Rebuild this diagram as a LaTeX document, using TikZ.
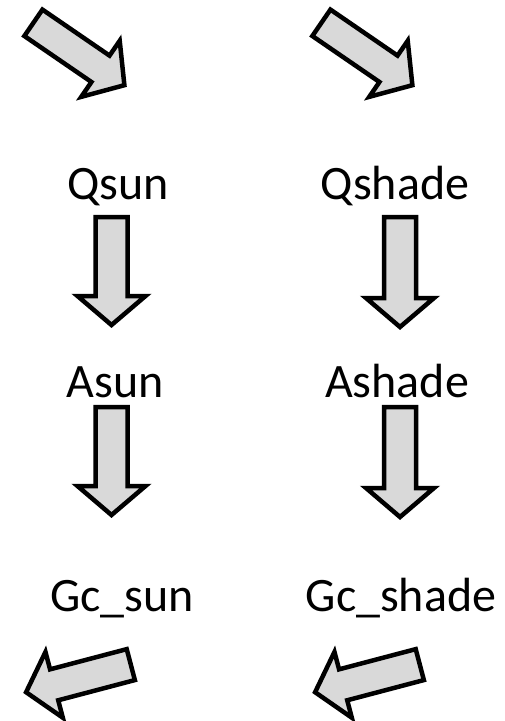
\documentclass[tikz,border=0pt]{standalone}
\usepackage{fontspec}
\setmainfont{Carlito}
\usetikzlibrary{calc}

% block arrow dimensions (pt)
\newcommand\shafthalf{16pt}
\newcommand\headhalf{34pt}
\newcommand\headlen{29pt}

% wide outlined arrow from coordinate #1 (tail) to coordinate #2 (tip)
\newcommand\blockarrow[2]{%
  \path coordinate (hb) at ($(#2)!\headlen!(#1)$);
  \draw[fatarrow]
    ($(#1)!\shafthalf!90:(#2)$) -- ($(hb)!\shafthalf!90:(#2)$)
    -- ($(hb)!\headhalf!90:(#2)$) -- (#2)
    -- ($(hb)!\headhalf!-90:(#2)$) -- ($(hb)!\shafthalf!-90:(#2)$)
    -- ($(#1)!\shafthalf!-90:(#2)$) -- cycle;
}

\begin{document}
\begin{tikzpicture}[x=1pt,y=-1pt,
  fatarrow/.style={draw=black,fill=arrowgray,line width=4.5pt,miter limit=10,line join=miter},
  lbl/.style={inner sep=0pt,anchor=base,font=\fontsize{48}{58}\selectfont}]
\definecolor{arrowgray}{HTML}{D9D9D9}
\useasboundingbox (0,0) rectangle (505,721);

% labels
\node[lbl] (qsun)    at (118,199) {Qsun};
\node[lbl] (qshade)  at (395,199) {Qshade};
\node[lbl] (asun)    at (115,397) {Asun};
\node[lbl] (ashade)  at (397,397) {Ashade};
\node[lbl] (gcsun)   at (122,611) {Gc\_sun};
\node[lbl] (gcshade) at (401,611) {Gc\_shade};

% arrow end points
\coordinate (inL)   at (33.4,22.8);   \coordinate (inLt)  at (124.4,85.2);
\coordinate (inR)   at (321.4,22.8);  \coordinate (inRt)  at (412.4,85.2);
\coordinate (qaL)   at (111.5,217);   \coordinate (qaLt)  at (111.5,325);
\coordinate (qaR)   at (400,217);     \coordinate (qaRt)  at (400,327);
\coordinate (agL)   at (111.5,407);   \coordinate (agLt)  at (111.5,515);
\coordinate (agR)   at (400,407);     \coordinate (agRt)  at (400,517);
\coordinate (outL)  at (130.8,664.6); \coordinate (outLt) at (26.1,692.2);
\coordinate (outR)  at (419.8,664.6); \coordinate (outRt) at (315.1,692.2);

\blockarrow{inL}{inLt}
\blockarrow{inR}{inRt}
\blockarrow{qaL}{qaLt}
\blockarrow{qaR}{qaRt}
\blockarrow{agL}{agLt}
\blockarrow{agR}{agRt}
\blockarrow{outL}{outLt}
\blockarrow{outR}{outRt}
\end{tikzpicture}
\end{document}
